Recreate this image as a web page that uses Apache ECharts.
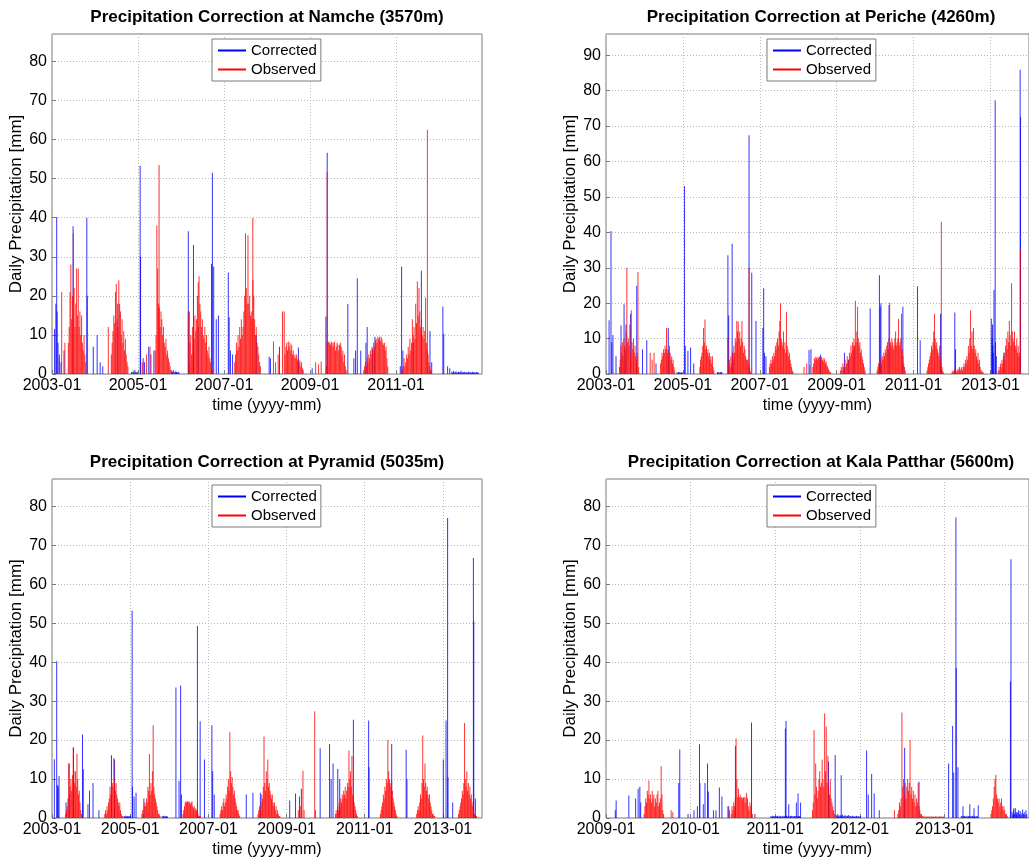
<!DOCTYPE html>
<html>
<head>
<meta charset="utf-8">
<script src="https://cdn.jsdelivr.net/npm/echarts@6/dist/echarts.min.js"></script>
<style>
  html, body { margin: 0; padding: 0; background: #ffffff; }
  #chart { width: 1029px; height: 859px; }
</style>
</head>
<body>
<div id="chart"></div>
<script>
// Daily precipitation (mm) at four stations, time in decimal years.
// Isolated days are listed as [year, mm]; wet-season stretches are listed as
// [first year, [values...]] with one value per step (weekly, or half-weekly for Kala Patthar).
const WEEK = 1 / 52;
const HALF_WEEK = 1 / 104;

const stationNames = ['Namche (3570m)', 'Periche (4260m)', 'Pyramid (5035m)', 'Kala Patthar (5600m)'];
const seriesNames = ['Corrected', 'Observed'];

// ---------- Namche ----------
const namcheCorrectedDays = [
  [2003.06, 11.5], [2003.09, 18], [2003.109, 40.2], [2003.12, 16], [2003.14, 8], [2003.17, 5], [2003.21, 3],
  [2003.28, 6], [2003.49, 37.8], [2003.81, 40], [2003.82, 20], [2003.96, 7], [2004.05, 10], [2004.12, 3],
  [2004.18, 2], [2004.53, 18], [2005.05, 53.3], [2005.06, 30], [2005.12, 4], [2005.15, 3], [2005.25, 7],
  [2005.30, 5], [2005.37, 6], [2006.17, 36.5], [2006.19, 16], [2006.29, 33], [2006.40, 12], [2006.71, 28.2],
  [2006.73, 51.5], [2006.76, 27.5], [2006.82, 14], [2006.87, 15], [2007.10, 26], [2007.12, 14.5], [2007.15, 6],
  [2007.20, 5], [2007.75, 10], [2008.05, 4.4], [2008.08, 4], [2008.29, 7], [2008.73, 6.8], [2009.05, 1.5],
  [2009.37, 14.7], [2009.40, 56.6], [2009.88, 17.9], [2010.02, 4], [2010.06, 6], [2010.10, 24.5], [2010.18, 6],
  [2010.33, 12], [2010.30, 8], [2010.45, 6.5], [2010.51, 9.5], [2011.10, 2], [2011.13, 27.5], [2011.16, 6],
  [2011.40, 8], [2011.59, 26.4], [2011.79, 11], [2011.83, 3], [2012.09, 17.3], [2012.11, 10.3], [2012.20, 2],
  [2012.25, 1.5]
];
const namcheCorrectedRuns = [
  [2004.85, [0.5, 0.3, 0.8, 0.4, 1, 0.5, 0.3, 0.6]],
  [2005.78, [0.8, 0.5, 1, 0.6, 0.4, 0.7, 0.5, 0.3, 0.6, 0.4]],
  [2012.30, [0.6, 0.4, 0.8, 0.3, 0.5, 0.7, 0.4, 0.3, 0.6, 0.5, 0.4, 0.8, 0.3, 0.5, 0.4, 0.6, 0.3,
             0.5, 0.4, 0.3, 0.6, 0.4, 0.5, 0.3, 0.4, 0.6, 0.3, 0.5, 0.4, 0.3, 0.5, 0.4, 0.3]]
];
const namcheObservedDays = [
  [2003.17, 4], [2003.225, 21], [2003.30, 8], [2004.31, 12], [2005.10, 3], [2005.20, 5], [2005.28, 7],
  [2005.49, 53.5], [2007.67, 40], [2008.15, 8.3], [2008.20, 3], [2008.26, 5], [2008.36, 16],
  [2009.13, 3], [2009.20, 2.5], [2009.26, 3.2], [2009.40, 51.6], [2011.73, 62.5]
];
const namcheObservedRuns = [
  [2003.38, [8, 12, 21, 28, 14, 20, 36, 22, 12, 18, 27, 15, 27, 12, 16, 10, 15, 8, 6, 10, 5, 3]],
  [2004.38, [5, 8, 11, 15, 13, 21, 23, 14, 12, 24, 18, 16, 10, 14, 8, 11, 6, 9, 5, 3, 2]],
  [2005.40, [6, 10, 38, 27, 18, 17, 12, 16, 14, 10, 12, 8, 7, 9, 5, 6, 4, 3, 2, 1]],
  [2006.17, [16, 3, 8, 10, 5, 12, 6, 9, 15, 11, 14, 20, 23.5, 25, 18, 16, 12, 14, 10, 9, 12, 8, 10, 6, 5, 7, 4, 3, 2, 1]],
  [2007.25, [3, 5, 8, 6, 10, 7, 12, 9, 14, 10, 12, 16, 20, 36, 22, 18, 35.5, 18, 20, 15, 16, 14, 24, 20, 14, 10, 12, 8, 7, 5, 3, 2]],
  [2008.40, [16, 5, 7, 8, 6, 8.3, 7, 8, 6, 7.5, 5, 6, 4.5, 5, 4, 5, 3.5, 4, 3, 3.5, 2, 3, 1.5, 1]],
  [2009.38, [2, 8.3, 8, 8.3, 8, 7.5, 8.3, 8, 7, 8, 8.3, 6, 7, 8, 7.5, 6, 7.5, 8, 7, 5, 6, 3, 5, 2, 1]],
  [2010.25, [1, 2, 3, 2, 4, 3, 5, 4, 6, 5, 7, 6, 8, 7, 8.5, 9, 8, 9.5, 9, 9.5, 8.5, 9.5, 9, 8, 7.5, 8, 6, 7, 4, 2]],
  [2011.15, [1, 2, 4, 2, 3, 5, 4, 7, 5, 9, 6, 8, 14, 10, 12, 9, 18, 13, 23.7, 15, 22, 16, 12, 14, 10, 12, 9, 11, 19.6, 8, 6, 5, 3, 2, 1, 0.5]]
];

// ---------- Periche ----------
const pericheCorrectedDays = [
  [2003.08, 15.2], [2003.13, 40.4], [2003.15, 9], [2003.18, 11], [2003.26, 5], [2003.39, 13.8], [2003.47, 19.7],
  [2003.52, 14], [2003.64, 17], [2003.80, 24.9], [2003.95, 7], [2004.06, 9.5], [2004.30, 3], [2004.62, 13],
  [2005.04, 53.1], [2005.06, 8], [2005.13, 6.5], [2005.20, 7.5], [2005.28, 3], [2006.17, 33.5], [2006.19, 16.5],
  [2006.28, 36.8], [2006.30, 6], [2006.72, 67.4], [2006.79, 28.6], [2006.90, 15], [2007.08, 13], [2007.10, 24.2],
  [2007.12, 6], [2007.16, 5], [2008.28, 6.8], [2008.33, 7], [2008.58, 5.5], [2009.20, 6], [2009.30, 4],
  [2009.45, 8], [2009.87, 18.5], [2010.11, 27.9], [2010.13, 19], [2010.15, 20], [2010.36, 19.5], [2010.72, 19],
  [2011.10, 24.8], [2011.17, 9.5], [2011.70, 17], [2012.07, 17.4], [2012.09, 7], [2013.02, 15.7], [2013.04, 10],
  [2013.05, 14], [2013.06, 8], [2013.07, 6], [2013.09, 23.7], [2013.12, 77.3], [2013.13, 9], [2013.15, 5],
  [2013.35, 6], [2013.77, 85.9], [2013.78, 72.6]
];
const pericheCorrectedRuns = [
  [2004.85, [0.5, 0.3, 0.6, 0.4, 0.5, 0.3, 0.5, 0.4]],
  [2005.90, [0.6, 0.4, 0.5, 0.3, 0.5, 0.6, 0.4]]
];
const pericheObservedDays = [
  [2004.15, 6], [2004.20, 4], [2004.25, 6], [2006.72, 30], [2008.15, 2], [2008.22, 3], [2008.30, 2.5], [2011.72, 43]
];
const pericheObservedRuns = [
  [2003.35, [2, 4, 8, 6, 9, 5, 10, 8, 7, 12, 30, 9, 10, 8, 14, 6, 18, 9, 7, 10, 6, 8, 5, 4, 6, 28.8, 2]],
  [2004.42, [3, 4, 6, 5, 7, 6, 8, 7, 13, 6, 7, 5, 8, 6, 4, 5, 3, 4, 2, 1]],
  [2005.44, [2, 4, 5, 6, 8, 13, 9, 15.4, 7, 8, 6, 7, 5, 6, 4, 5, 3, 5, 2, 1]],
  [2006.17, [10, 3, 4, 2, 5, 3, 6, 4, 8, 6, 10, 9, 15, 12, 14.8, 10, 12, 8, 10, 15, 9, 6, 8, 7, 5, 4, 4, 4, 3, 2, 1, 0.5]],
  [2007.25, [2, 3, 4, 3, 5, 4, 6, 5, 8, 7, 9, 10, 8, 12, 15, 20, 10, 9, 8, 12, 7, 9, 6, 17.5, 8, 7, 5, 6, 4, 3, 2, 1, 0.5]],
  [2008.38, [2, 3, 4.5, 4, 4.9, 4.5, 4, 4.9, 4.5, 4.9, 4, 4.5, 4.9, 4, 3.5, 4.5, 4, 3, 3.5, 2.5, 2, 1.5, 1, 0.5, 0.5]],
  [2009.10, [1, 2, 1, 3, 2, 1, 4, 2, 3, 5, 3, 4, 6, 5, 8, 6, 9, 7, 10, 8, 20.7, 9, 12, 19, 10, 8, 9, 6, 7, 5, 4, 3, 2, 1]],
  [2010.05, [1, 2, 3, 1, 2, 4, 3, 5, 4, 6, 5, 7, 6, 8, 9, 7, 10, 20.1, 9, 8, 10, 9, 7, 8, 10, 12, 8, 9, 10, 15.5, 8, 9, 10, 17, 7, 5, 3, 2, 1]],
  [2011.35, [1, 2, 3, 4, 5, 6, 8, 7, 9, 12, 17, 10, 8, 9, 7, 6, 5, 8, 4, 3, 2, 1, 0.5]],
  [2012.00, [0.5, 1, 0.5, 1, 1.5, 1, 0.5, 1, 1.5, 1, 2, 1, 1.5, 2, 1, 2, 3, 2, 4, 3, 5, 4, 8, 6, 10, 17.9, 8, 12, 7, 13,
             8, 6, 7, 5, 4, 6, 3, 4, 2, 1, 1, 0.5, 0.5]],
  [2013.20, [1, 2, 1, 3, 2, 4, 3, 5, 6, 4, 8, 10, 7, 12, 9, 15, 11, 8, 25.6, 12, 10, 9, 12, 8, 7, 10, 6, 8, 5, 6, 35]]
];

// ---------- Pyramid ----------
const pyramidCorrectedDays = [
  [2003.06, 15.1], [2003.12, 40.2], [2003.14, 8.5], [2003.16, 8], [2003.18, 10.8], [2003.36, 4], [2003.44, 14],
  [2003.55, 18], [2003.78, 21.4], [2003.80, 12.5], [2003.92, 3.5], [2003.96, 7], [2004.05, 9], [2004.20, 2],
  [2004.52, 16], [2004.60, 15], [2005.05, 53.2], [2005.06, 8], [2005.10, 5.5], [2005.15, 6.5], [2005.35, 5],
  [2006.17, 33.5], [2006.25, 9.5], [2006.29, 34], [2006.31, 6], [2006.72, 49.3], [2006.79, 24.8], [2006.90, 15],
  [2007.09, 23.8], [2007.11, 12], [2007.15, 6], [2007.97, 6], [2008.14, 6.5], [2008.33, 6.5], [2009.08, 4.5],
  [2009.23, 6.3], [2009.33, 5.5], [2009.38, 7.5], [2009.86, 17.9], [2010.10, 19], [2010.14, 10], [2010.19, 14],
  [2010.31, 12.6], [2010.36, 10], [2010.71, 25.2], [2011.10, 25], [2011.11, 13], [2011.69, 19], [2012.06, 17.5],
  [2012.08, 10], [2013.01, 15], [2013.08, 25], [2013.12, 77], [2013.13, 10.5], [2013.25, 4], [2013.78, 66.7],
  [2013.79, 50.5], [2013.83, 5]
];
const pyramidCorrectedRuns = [
  [2004.85, [0.5, 0.3, 0.6, 0.4, 0.5, 0.3, 0.5, 0.4, 0.6]],
  [2005.82, [0.5, 0.4, 0.6, 0.3, 0.5, 0.4, 0.5, 0.3]]
];
const pyramidObservedDays = [
  [2009.30, 2], [2009.35, 3], [2009.42, 12.1], [2009.45, 2], [2009.72, 27.4], [2009.74, 2]
];
const pyramidObservedRuns = [
  [2003.35, [1, 2, 3, 5, 14, 6, 8, 10, 7, 11, 18.2, 12, 9, 12, 8, 16.5, 10, 6, 7, 4, 2, 1]],
  [2004.35, [1, 2, 1, 3, 2, 4, 5, 8, 6, 16.1, 9, 8, 15.4, 10, 7, 9, 6, 5, 4, 3, 4, 2, 1, 0.5, 0.5]],
  [2005.30, [1, 2, 1, 3, 4, 3, 5, 4, 8, 7, 16.4, 6, 9, 7, 12, 23.8, 8, 6, 5, 4, 3, 2, 1, 1, 0.5]],
  [2006.35, [1, 2, 3, 4, 4.3, 4, 4.3, 4, 4.3, 4, 3.5, 4, 4.3, 3, 2.5, 3, 2, 2.5, 2, 1.5, 1, 0.5, 0.5, 0.5]],
  [2007.30, [1, 2, 3, 2, 4, 5, 3, 4, 6, 5, 8, 10, 7, 22, 12, 9, 10.5, 8, 6, 7, 5, 4, 3, 2, 2, 1, 0.5]],
  [2008.27, [1, 2, 3, 2, 4, 6, 5, 8, 20.9, 9, 7, 12, 10, 15, 8, 9, 7, 6, 5, 6, 4, 3, 4, 2, 3, 1, 2, 1, 0.5, 0.5]],
  [2010.25, [1, 2, 1, 3, 2, 4, 3, 5, 4, 6, 5, 7, 6, 8, 5, 7, 9, 8, 17.3, 10, 12, 8, 16, 6, 5, 4, 3, 2, 1, 0.5]],
  [2011.40, [1, 2, 3, 4, 6, 5, 8, 7, 10, 9, 20.1, 12, 10, 9, 8, 10, 7, 5, 4, 3, 2, 1, 0.5]],
  [2012.33, [1, 2, 3, 2, 4, 6, 5, 9, 21.2, 10, 8, 14, 9, 7, 8, 6, 5, 6, 4, 3, 2, 1, 1, 0.5, 0.5]],
  [2013.40, [1, 2, 3, 4, 5, 7, 6, 9, 24.4, 10, 8, 12, 7, 9, 6, 8, 5, 6, 4, 3, 2, 1, 1, 0.5, 0.5]]
];

// ---------- Kala Patthar (half-weekly stretches) ----------
const kalaCorrectedDays = [
  [2009.11, 2], [2009.12, 4.5], [2009.27, 5.8], [2009.35, 5], [2009.38, 7.5], [2009.40, 8], [2009.41, 4],
  [2009.86, 9], [2009.872, 17.6], [2009.97, 1], [2010.04, 2], [2010.08, 3], [2010.105, 18.9], [2010.11, 9],
  [2010.15, 3.5], [2010.17, 9], [2010.20, 14], [2010.21, 6.8], [2010.27, 2], [2010.30, 2], [2010.34, 7.8],
  [2010.37, 5.5], [2010.45, 3], [2010.53, 18.5], [2010.72, 24.5], [2010.76, 1], [2011.12, 23], [2011.128, 24.9],
  [2011.16, 3.5], [2011.25, 4], [2011.27, 6.3], [2011.30, 4], [2011.63, 14.5], [2011.709, 16.2], [2011.78, 11],
  [2012.08, 17.3], [2012.10, 6], [2012.14, 11.3], [2012.17, 6.3], [2012.23, 2], [2012.53, 18], [2012.70, 9.3],
  [2013.05, 14], [2013.097, 23.6], [2013.11, 11.7], [2013.136, 77.1], [2013.14, 38.5], [2013.16, 13],
  [2013.22, 3], [2013.30, 3.5], [2013.35, 2.5], [2013.40, 3.3], [2013.78, 35], [2013.787, 66.4],
  [2013.82, 2.5], [2013.85, 1.5]
];
const kalaCorrectedRuns = [
  [2010.95, [0.5, 0.3, 0.6, 0.4, 0.5, 0.3, 0.6, 0.4, 0.5, 0.3, 0.6, 0.4, 0.5, 0.3, 0.4, 0.6, 0.3, 0.5, 0.4,
             0.6, 0.3, 0.5, 0.4, 0.3, 0.5, 0.6, 0.4, 0.5, 0.3, 0.5, 0.4, 0.6, 0.3, 0.5, 0.4, 0.5, 0.3]],
  [2011.72, [0.8, 0.5, 1, 0.6, 0.4, 0.8, 0.5, 0.6, 0.9, 0.4, 0.5, 0.7, 0.6, 0.4, 0.5, 0.8, 0.6, 0.4, 0.5,
             0.3, 0.6, 0.4, 0.5, 0.3, 0.4, 0.6, 0.3, 0.5, 0.4, 0.3, 0.5]],
  [2013.20, [0.5, 0.3, 0.6, 0.4, 0.5, 0.3, 0.4, 0.6, 0.3, 0.5, 0.4, 0.3, 0.5, 0.4, 0.6, 0.3, 0.5, 0.4, 0.3, 0.5, 0.4]],
  [2013.80, [1.5, 0.8, 2, 1, 2.5, 1.2, 0.8, 1.5, 2, 1, 1.8, 0.8, 1.2, 2.2, 1, 1.5, 0.8, 2, 1]]
];
const kalaObservedDays = [
  [2009.77, 2], [2009.79, 1.5], [2010.44, 3], [2010.46, 2], [2012.41, 2]
];
const kalaObservedRuns = [
  [2009.45, [1, 3, 5, 4, 7, 6, 9.6, 5, 6, 4, 7, 5, 6, 3, 5, 4, 6, 7, 3, 4, 5, 13.3, 6, 2, 1]],
  [2010.48, [1, 3, 2, 4, 3, 5, 20.4, 10, 5.3, 7.5, 5.3, 6, 5.3, 5.3, 5, 5.3, 5.3, 4, 5.3, 6.5, 5, 3, 2, 4, 3, 22.8, 1]],
  [2011.44, [2, 4, 22.6, 6, 14, 8, 5, 7, 10, 12, 8, 9, 15, 10, 8, 26.8, 12, 23.5, 9, 16, 8, 6, 10, 5, 4, 3, 2, 1]],
  [2012.45, [1, 2, 4, 3, 5, 27.1, 8, 10, 6, 9, 5, 8, 10, 7, 9, 20, 6, 8, 5, 7, 4, 6, 3, 5, 4, 9, 3, 2, 1, 1, 0.5, 0.5]],
  [2012.76, [0.3, 0.4, 0.3, 0.3, 0.4, 0.3, 0.4, 0.3, 0.3, 0.4, 0.3, 0.4, 0.3, 0.3, 0.4, 0.3, 0.4, 0.3, 0.3, 0.4,
             0.3, 0.4, 0.3, 0.3, 0.4]],
  [2013.55, [1, 2, 3, 5, 8, 10, 11.1, 6, 5, 4, 5, 3, 4, 5, 3, 2, 3, 2, 1, 1, 0.5]]
];

// Axis ranges per panel
const xMin = [2003, 2003, 2003, 2009];
const xMax = [2013, 2014, 2014, 2014];
const xStep = [2, 2, 2, 1];
const yMax = [87, 96, 87, 87];
const runStep = [WEEK, WEEK, WEEK, HALF_WEEK];

const stationData = [
  [namcheCorrectedDays, namcheCorrectedRuns, namcheObservedDays, namcheObservedRuns],
  [pericheCorrectedDays, pericheCorrectedRuns, pericheObservedDays, pericheObservedRuns],
  [pyramidCorrectedDays, pyramidCorrectedRuns, pyramidObservedDays, pyramidObservedRuns],
  [kalaCorrectedDays, kalaCorrectedRuns, kalaObservedDays, kalaObservedRuns]
];

// ---------- layout ----------
const FONT = '"Liberation Sans", Arial, Helvetica, sans-serif';
const grids = [
  { left: 52, top: 34, width: 430, height: 340 },
  { left: 606, top: 34, width: 431, height: 340 },
  { left: 52, top: 479, width: 430, height: 341 },
  { left: 606, top: 479, width: 431, height: 341 }
];
const titleCenter = [267, 821, 267, 821];
const titleTop = [9, 9, 454, 454];
const legendPos = [[212, 39], [767, 39], [212, 485], [767, 485]];
const COLORS = { Corrected: '#0000ff', Observed: '#ff0000' };

function expand(days, runs, step) {
  const out = days.map(d => [d[0], d[1]]);
  runs.forEach(([start, values]) => {
    values.forEach((v, i) => out.push([start + i * step, v]));
  });
  out.sort((a, b) => a[0] - b[0]);
  return out;
}

// one thin vertical stroke per day, from zero up to the day's total
function renderDay(params, api) {
  const t = api.value(0);
  const base = api.coord([t, 0]);
  const top = api.coord([t, api.value(1)]);
  return {
    type: 'rect',
    shape: { x: base[0] - 0.5, y: top[1], width: 1, height: base[1] - top[1] },
    style: { fill: api.visual('color'), opacity: 0.8 }
  };
}

const gridOpt = grids.map(g => Object.assign({
  show: true, borderColor: '#7a7a7a', borderWidth: 1, backgroundColor: '#ffffff'
}, g));

const splitLineStyle = { show: true, lineStyle: { color: '#b8b8b8', type: [1, 2], width: 1 } };

const xAxes = grids.map((g, i) => ({
  type: 'value', gridIndex: i, min: xMin[i], max: xMax[i], interval: xStep[i],
  name: 'time (yyyy-mm)', nameLocation: 'middle', nameGap: 24,
  nameTextStyle: { fontSize: 16, color: '#000', fontFamily: FONT },
  axisLine: { show: false },
  axisTick: { show: true, inside: true, length: 4, lineStyle: { color: '#7a7a7a' } },
  axisLabel: {
    fontSize: 16, color: '#000', fontFamily: FONT, margin: 4, showMaxLabel: false,
    formatter: v => Math.round(v) + '-01'
  },
  splitLine: splitLineStyle
}));

const yAxes = grids.map((g, i) => ({
  type: 'value', gridIndex: i, min: 0, max: yMax[i], interval: 10,
  name: 'Daily Precipitation [mm]', nameLocation: 'middle', nameGap: 20,
  nameTextStyle: { fontSize: 17, color: '#000', fontFamily: FONT },
  axisLine: { show: false },
  axisTick: { show: true, inside: true, length: 4, lineStyle: { color: '#7a7a7a' } },
  axisLabel: { fontSize: 16, color: '#000', fontFamily: FONT, margin: 5, showMaxLabel: false },
  splitLine: splitLineStyle
}));

const series = [];
stationData.forEach((d, i) => {
  const step = runStep[i];
  [[seriesNames[0], d[0], d[1]], [seriesNames[1], d[2], d[3]]].forEach(([name, days, runs]) => {
    series.push({
      type: 'custom', name: name, xAxisIndex: i, yAxisIndex: i, clip: true,
      renderItem: renderDay, encode: { x: 0, y: 1 },
      itemStyle: { color: COLORS[name] },
      data: expand(days, runs, step)
    });
  });
});

const titles = stationNames.map((s, i) => ({
  text: 'Precipitation Correction at ' + s,
  left: titleCenter[i], top: titleTop[i], textAlign: 'center', padding: 0,
  textStyle: { fontSize: 17, fontWeight: 'bold', color: '#000', fontFamily: FONT }
}));

const legends = legendPos.map(([l, t]) => ({
  left: l, top: t, orient: 'vertical', data: seriesNames, selectedMode: false,
  icon: 'rect', itemWidth: 28, itemHeight: 2, itemGap: 2,
  padding: [3, 4, 3, 6], borderColor: '#7a7a7a', borderWidth: 1, backgroundColor: '#ffffff',
  textStyle: { fontSize: 15, color: '#000', fontFamily: FONT, lineHeight: 17 }
}));

const chart = echarts.init(document.getElementById('chart'), null, { renderer: 'canvas' });
chart.setOption({
  animation: false,
  backgroundColor: '#ffffff',
  title: titles,
  legend: legends,
  grid: gridOpt,
  xAxis: xAxes,
  yAxis: yAxes,
  series: series
});
</script>
</body>
</html>
